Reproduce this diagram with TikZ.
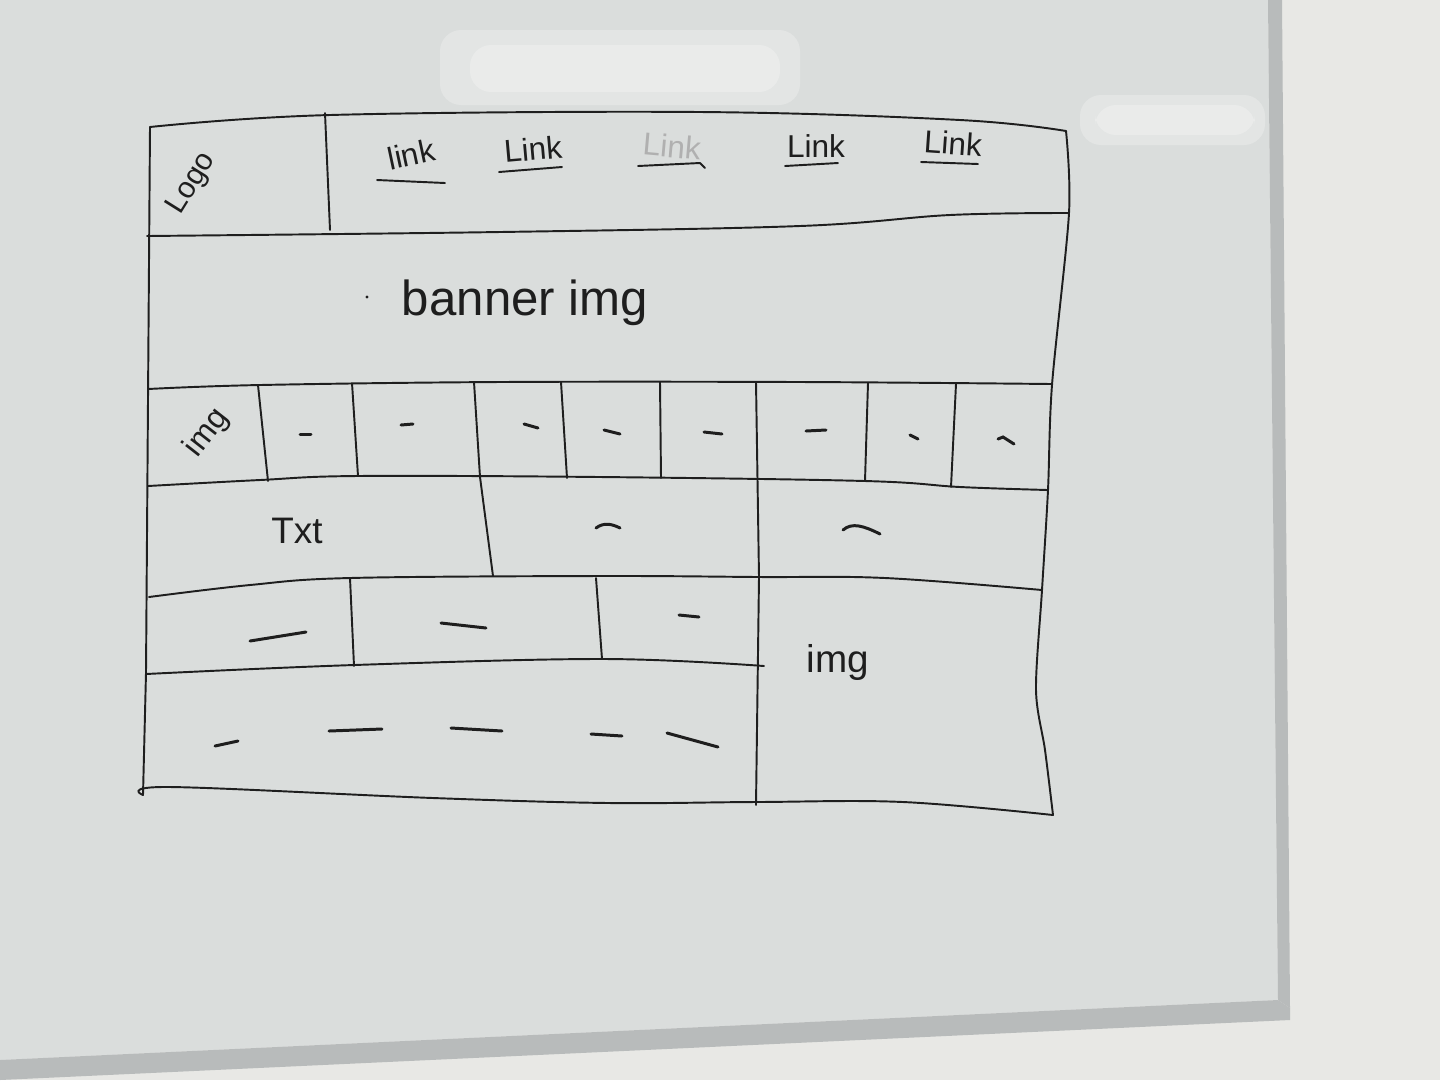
\documentclass[tikz,border=0pt]{standalone}
\usepackage{fontspec}
\setmainfont{Liberation Sans}
\definecolor{boardc}{HTML}{DADDDC}
\definecolor{wallc}{HTML}{E8E8E5}
\definecolor{framec}{HTML}{B8BBBB}
\definecolor{inkc}{HTML}{1E1E1E}
\begin{document}
\begin{tikzpicture}[x=0.02cm,y=-0.02cm,
  pen/.style={line width=1.1pt, draw=inkc, line cap=round, line join=round},
  tick/.style={line width=1.7pt, draw=inkc, line cap=round},
  glare/.style={fill=white, opacity=0.25, rounded corners=12pt},
  lbl/.style={inner sep=0pt, text=inkc, font=\fontsize{18}{20}\selectfont}]
\useasboundingbox (0,0) rectangle (1440,1080);
% background: board, wall, frame
\fill[wallc] (0,0) rectangle (1440,1080);
\fill[boardc] (0,0) -- (1268,0) -- (1278,1000) -- (0,1060) -- cycle;
\fill[framec] (1268,0) -- (1282,0) -- (1290,1008) -- (1278,1000) -- cycle;
\fill[framec] (0,1060) -- (1278,1000) -- (1290,1008) -- (1290,1020) -- (0,1080) -- cycle;
\fill[glare] (440,30) rectangle (800,105);
\fill[glare] (470,45) rectangle (780,92);
\fill[glare] (1080,95) rectangle (1265,145);
\fill[glare] (1095,105) rectangle (1255,135);

% outer frame
\draw[pen] plot[smooth, tension=0.6] coordinates {(150,127) (330,115) (700,112) (960,120) (1066,131)};
\draw[pen] (150,127) -- (148,400) -- (146,673) -- (143,795);
\draw[pen] plot[smooth, tension=0.5] coordinates {(1066,131) (1069,213) (1052,385) (1048,490) (1042,590) (1036,690) (1045,750) (1053,815)};
\draw[pen] plot[smooth, tension=0.6] coordinates {(143,795) (170,787) (433,798) (609,803) (756,802) (903,802) (1053,815)};

% header
\draw[pen] plot[smooth, tension=0.6] coordinates {(147,236) (500,232) (800,226) (950,215) (1069,213)};
\draw[pen] (325,113) -- (330,230);
\node[lbl, rotate=58, font=\fontsize{17}{19}\selectfont] (logo) at (192,184) {Logo};
\node[lbl, rotate=12] (l1) at (411,154) {link};
\node[lbl, rotate=5] (l2) at (533,149) {Link};
\node[lbl, rotate=-5, text=inkc!35] (l3) at (672,146) {Link};
\node[lbl] (l4) at (816,146) {Link};
\node[lbl, rotate=-4] (l5) at (953,143) {Link};
\draw[pen] (377,180) -- (445,183);
\draw[pen] (499,172) -- (562,167);
\draw[pen] (638,166) -- (700,163) -- (705,168);
\draw[pen] (785,166) -- (838,163);
\draw[pen] (921,162) -- (978,164);

% banner
\node[lbl, font=\fontsize{28}{30}\selectfont] (banner) at (525,303) {banner img};
\fill[inkc] (367,297) circle (1.6);

% row 3
\draw[pen] plot[smooth, tension=0.6] coordinates {(148,389) (260,385) (500,382) (800,382) (1052,384)};
\draw[pen] plot[smooth, tension=0.6] coordinates {(148,486) (260,480) (357,476) (600,477) (865,481) (960,487) (1048,490)};
\draw[pen] (258,385) -- (268,481);
\draw[pen] (352,383) -- (358,476);
\draw[pen] (474,382) -- (480,477) -- (493,576);
\draw[pen] (561,382) -- (567,478);
\draw[pen] (660,382) -- (661,478);
\draw[pen] (756,382) -- (759,577) -- (756,805);
\draw[pen] (868,383) -- (865,481);
\draw[pen] (956,384) -- (951,487);
\node[lbl, rotate=52, font=\fontsize{18}{20}\selectfont] (img1) at (207,433) {img};
\draw[tick] (300,434) -- (311,434);
\draw[tick] (401,425) -- (413,424);
\draw[tick] (524,424) -- (538,428);
\draw[tick] (604,430) -- (620,434);
\draw[tick] (704,432) -- (722,434);
\draw[tick] (806,431) -- (826,430);
\draw[tick] (910,435) -- (918,439);
\draw[tick] (998,439) -- (1003,437) -- (1014,444);

% row 4
\node[lbl, font=\fontsize{21}{23}\selectfont] (txt) at (297,531) {Txt};
\draw[tick] (596,528) .. controls (604,522) and (612,524) .. (620,528);
\draw[tick] (843,530) .. controls (852,522) and (864,526) .. (880,534);
\draw[pen] plot[smooth, tension=0.6] coordinates {(149,597) (250,585) (350,578) (600,576) (759,577) (885,578) (1042,590)};

% row 5
\draw[pen] (350,578) -- (354,666);
\draw[pen] (596,578) -- (602,659);
\draw[pen] plot[smooth, tension=0.6] coordinates {(146,674) (354,665) (604,659) (764,666)};
\draw[tick] (250,641) -- (306,632);
\draw[tick] (441,623) -- (486,628);
\draw[tick] (679,615) -- (699,617);
\node[lbl, font=\fontsize{22}{24}\selectfont] (img2) at (838,662) {img};

% row 6
\draw[tick] (215,746) -- (238,741);
\draw[tick] (329,731) -- (382,729);
\draw[tick] (451,728) -- (502,731);
\draw[tick] (591,734) -- (622,736);
\draw[tick] (667,733) -- (718,747);
\end{tikzpicture}
\end{document}
